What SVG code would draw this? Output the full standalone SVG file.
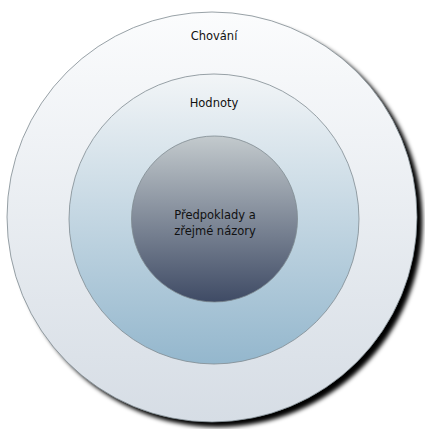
<svg xmlns="http://www.w3.org/2000/svg" width="425" height="429" viewBox="0 0 425 429">
<defs>
<linearGradient id="gOuter" x1="0" y1="0" x2="0" y2="1"><stop offset="0" stop-color="#fbfcfd"/><stop offset="1" stop-color="#d6dde5"/></linearGradient>
<linearGradient id="gMid" x1="0" y1="0" x2="0" y2="1"><stop offset="0" stop-color="#f2f5f7"/><stop offset="1" stop-color="#94b7cd"/></linearGradient>
<linearGradient id="gIn" x1="0" y1="0" x2="0" y2="1"><stop offset="0" stop-color="#c3cacd"/><stop offset="1" stop-color="#3f4b65"/></linearGradient>
<filter id="sh" x="-10%" y="-10%" width="130%" height="130%"><feGaussianBlur stdDeviation="2.2"/></filter>
<style>
.ring{stroke:#7f8a90;stroke-width:0.8}
.lbl{font-family:"DejaVu Sans",Verdana,sans-serif;font-size:11.5px;fill:#111;text-anchor:middle}
</style>
</defs>
<circle cx="217.5" cy="222" r="205" fill="#000" filter="url(#sh)"/>
<g id="outer"><circle class="ring" cx="212" cy="217" r="205" fill="url(#gOuter)"/><text class="lbl" x="214" y="40">Chování</text></g>
<g id="middle"><circle class="ring" cx="214" cy="219" r="145" fill="url(#gMid)"/><text class="lbl" x="214" y="107">Hodnoty</text></g>
<g id="inner"><circle class="ring" cx="214.5" cy="219" r="83" fill="url(#gIn)"/><text class="lbl" x="215" y="219">Předpoklady a</text><text class="lbl" x="215" y="235">zřejmé názory</text></g>
<g id="connectors"/>
</svg>
